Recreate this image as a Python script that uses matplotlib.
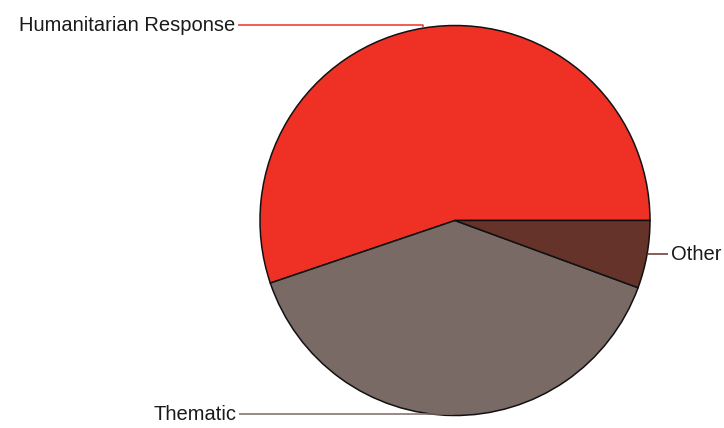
import matplotlib.pyplot as plt
import numpy as np

labels = ['Humanitarian Response', 'Thematic', 'Other']
shares = [55.2, 39.2, 5.6]
colors = ['#ee3124', '#7a6a65', '#66332a']

plt.rcParams['font.family'] = ['Liberation Sans', 'DejaVu Sans']

fig = plt.figure(figsize=(7.24, 4.28), dpi=100)
ax = fig.add_axes([0, 0, 1, 1])

# pie in pixel coordinates (y up)
cx, cy, r = 455, 428 - 220.5, 195
wedges, _ = ax.pie(shares, colors=colors, startangle=0, counterclock=True,
                   center=(cx, cy), radius=r,
                   wedgeprops=dict(edgecolor='#111111', linewidth=1.1))
ax.set_xlim(0, 724)
ax.set_ylim(0, 428)
ax.set_aspect('equal')
ax.axis('off')

# label positions: (text x, line y, text alignment)
label_pos = {
    'Humanitarian Response': (235, 428 - 25, 'right'),
    'Thematic': (236, 428 - 414, 'right'),
    'Other': (671, 428 - 254, 'left'),
}

for w, lab, col in zip(wedges, labels, colors):
    mid = np.deg2rad((w.theta1 + w.theta2) / 2)
    px, py = cx + r * np.cos(mid), cy + r * np.sin(mid)
    tx, ly, ha = label_pos[lab]
    if ha == 'right':
        ax.plot([tx + 3, px, px], [ly, ly, py], color=col, lw=1.1,
                solid_capstyle='butt')
    else:
        ax.plot([px, tx - 3], [ly, ly], color=col, lw=1.1,
                solid_capstyle='butt')
    ax.text(tx, ly, lab, ha=ha, va='center', fontsize=14.5, color='#1a1a1a')

fig.savefig('out.png', dpi=100)
